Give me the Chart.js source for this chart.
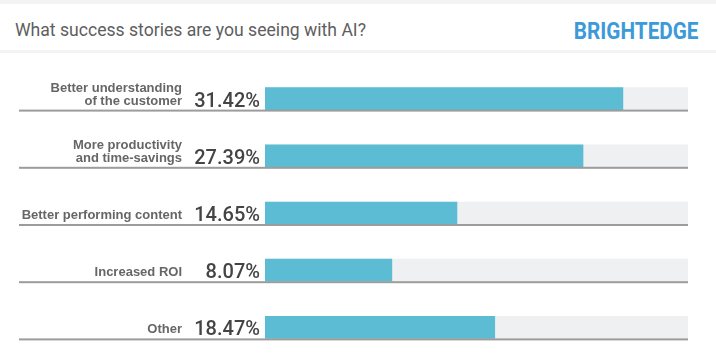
<!DOCTYPE html>
<html>
<head>
<meta charset="utf-8">
<script src="https://cdn.jsdelivr.net/npm/chart.js@4.4.1/dist/chart.umd.min.js"></script>
<style>
  html, body { margin: 0; padding: 0; background: #fff; }
  body { width: 716px; height: 359px; overflow: hidden; position: relative; font-family: Roboto, 'Liberation Sans', sans-serif; }
  .top-strip { position: absolute; left: 0; top: 0; width: 716px; height: 4px; background: #f2f3f4; }
  .header { position: absolute; left: 0; top: 4px; width: 716px; height: 46px; background: #fff; }
  .sep { position: absolute; left: 0; top: 50px; width: 716px; height: 3px; background: #f2f3f4; }
  .title { position: absolute; left: 15px; top: 16px; font-size: 17.6px; color: #5e5e5e; white-space: nowrap; }
  .brand { position: absolute; right: 18px; top: 14px; font-size: 23px; font-weight: 700; color: #3d9ad8;
           transform: scaleX(0.9); transform-origin: right center; white-space: nowrap; }
  .chart-wrap { position: absolute; left: 0; top: 53px; width: 716px; height: 306px; }
</style>
</head>
<body>
<div class="top-strip"></div>
<div class="header">
  <div class="title">What success stories are you seeing with AI?</div>
  <div class="brand">BRIGHTEDGE</div>
</div>
<div class="sep"></div>
<div class="chart-wrap"><canvas id="chart" width="716" height="306"></canvas></div>

<script>
// ─── Data ─────────────────────────────────────────────────────────────────────

const CATEGORIES = [
  ['Better understanding', 'of the customer'],
  ['More productivity', 'and time-savings'],
  ['Better performing content'],
  ['Increased ROI'],
  ['Other'],
];

const SHARES = [31.42, 27.39, 14.65, 8.07, 18.47];

// value axis range (bars in the picture start a little below zero)
const X_MIN = -4.75;
const X_MAX = 38;

const TRACK = SHARES.map(() => X_MAX);

const BAR_COLOR = '#5bbcd3';
const TRACK_COLOR = '#eff0f2';
const RULE_COLOR = '#9c9c9c';
const BAR_H = 22;

// ─── Row labels + underline rules ─────────────────────────────────────────────

const rowDecor = {
  id: 'rowDecor',
  afterDatasetsDraw(chart) {
    const { ctx, chartArea, scales: { y } } = chart;
    ctx.save();
    CATEGORIES.forEach((lines, i) => {
      const cy = y.getPixelForValue(i);
      const bottom = cy + BAR_H / 2;

      // rule under the row
      ctx.fillStyle = RULE_COLOR;
      ctx.fillRect(19, bottom, chartArea.right - 19, 2);

      // category text, right aligned
      ctx.fillStyle = '#666';
      ctx.font = 'bold 13px "Liberation Sans", Roboto, sans-serif';
      ctx.textAlign = 'right';
      ctx.textBaseline = 'alphabetic';
      lines.slice().reverse().forEach((line, k) => {
        ctx.fillText(line, 182, bottom - 5 - k * 13);
      });

      // percentage
      ctx.fillStyle = '#444';
      ctx.font = '500 20px Roboto, "Liberation Sans", sans-serif';
      ctx.fillText(SHARES[i].toFixed(2) + '%', 260, bottom - 3);
    });
    ctx.restore();
  },
};

// ─── Chart ────────────────────────────────────────────────────────────────────

new Chart(document.getElementById('chart'), {
  type: 'bar',
  data: {
    labels: CATEGORIES,
    datasets: [
      {
        data: SHARES,
        base: X_MIN,
        backgroundColor: BAR_COLOR,
        barThickness: BAR_H,
        grouped: false,
        order: 1,
      },
      {
        data: TRACK,
        base: X_MIN,
        backgroundColor: TRACK_COLOR,
        barThickness: BAR_H,
        grouped: false,
        order: 2,
      },
    ],
  },
  options: {
    indexAxis: 'y',
    responsive: false,
    animation: false,
    layout: { padding: { left: 265, right: 28, top: 17, bottom: 3 } },
    plugins: {
      legend: { display: false },
      tooltip: { enabled: false },
    },
    scales: {
      x: { min: X_MIN, max: X_MAX, display: false },
      y: { display: false, offset: true },
    },
  },
  plugins: [rowDecor],
});
</script>
</body>
</html>
